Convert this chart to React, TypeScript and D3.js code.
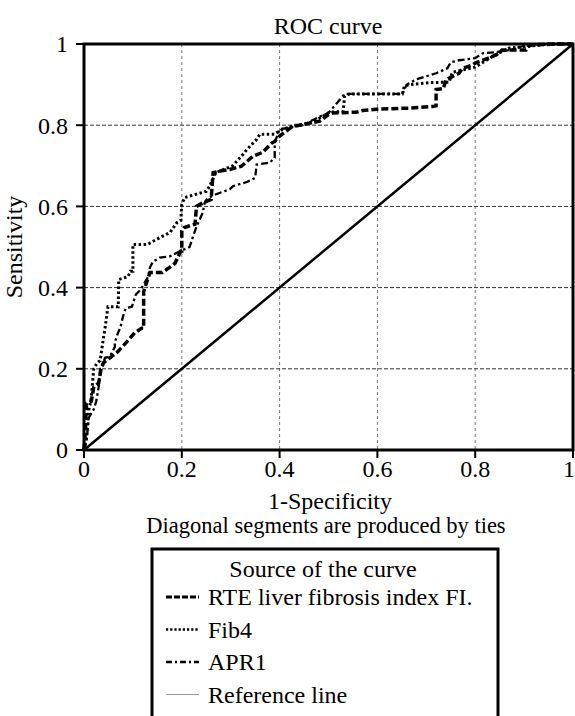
import React from "react";
import * as d3 from "d3";

// tick values and labels
const ticks = [0, 0.2, 0.4, 0.6, 0.8, 1];
const tickLabels = ["0", "0.2", "0.4", "0.6", "0.8", "1"];

const seriesNames = ["RTE liver fibrosis index FI.", "Fib4", "APR1", "Reference line"];

// [1-specificity, sensitivity]
const rtePoints: [number, number][] = [
  [0, 0], [0.003, 0.05], [0.005, 0.115], [0.015, 0.12], [0.02, 0.155], [0.03, 0.165],
  [0.035, 0.2], [0.04, 0.215], [0.053, 0.227], [0.069, 0.242], [0.088, 0.267],
  [0.104, 0.289], [0.118, 0.3], [0.122, 0.3], [0.122, 0.39], [0.13, 0.42], [0.135, 0.437],
  [0.16, 0.437], [0.175, 0.45], [0.186, 0.46], [0.198, 0.49], [0.2, 0.49], [0.2, 0.54],
  [0.205, 0.548], [0.227, 0.556], [0.23, 0.6], [0.245, 0.61], [0.26, 0.617], [0.264, 0.683],
  [0.278, 0.687], [0.298, 0.691], [0.322, 0.699], [0.345, 0.723], [0.365, 0.733],
  [0.384, 0.756], [0.39, 0.76], [0.4, 0.773], [0.427, 0.798], [0.44, 0.8], [0.482, 0.81],
  [0.5, 0.826], [0.508, 0.83], [0.557, 0.832], [0.57, 0.836], [0.604, 0.84], [0.665, 0.842],
  [0.712, 0.846], [0.72, 0.848], [0.72, 0.888], [0.735, 0.89], [0.74, 0.912], [0.767, 0.928],
  [0.774, 0.94], [0.794, 0.948], [0.8, 0.953], [0.843, 0.973], [0.855, 0.985],
  [0.904, 0.985], [0.91, 0.997], [0.965, 1], [1, 1],
];

const fib4Points: [number, number][] = [
  [0, 0], [0.005, 0.03], [0.01, 0.1], [0.014, 0.12], [0.02, 0.2], [0.027, 0.215],
  [0.033, 0.22], [0.039, 0.27], [0.043, 0.3], [0.049, 0.353], [0.07, 0.353], [0.071, 0.42],
  [0.09, 0.427], [0.095, 0.44], [0.1, 0.44], [0.1, 0.506], [0.13, 0.506], [0.135, 0.51],
  [0.155, 0.523], [0.176, 0.536], [0.19, 0.56], [0.198, 0.565], [0.2, 0.605], [0.206, 0.622],
  [0.25, 0.637], [0.257, 0.65], [0.27, 0.684], [0.278, 0.687], [0.304, 0.7], [0.325, 0.728],
  [0.333, 0.74], [0.353, 0.765], [0.36, 0.778], [0.39, 0.778], [0.406, 0.79], [0.427, 0.798],
  [0.44, 0.8], [0.467, 0.807], [0.502, 0.832], [0.53, 0.834], [0.533, 0.872], [0.543, 0.877],
  [0.651, 0.877], [0.655, 0.896], [0.665, 0.9], [0.706, 0.905], [0.747, 0.906], [0.753, 0.93],
  [0.8, 0.943], [0.84, 0.973], [0.87, 0.99], [0.9, 0.993], [0.95, 1], [1, 1],
];

const apr1Points: [number, number][] = [
  [0, 0], [0.005, 0.02], [0.01, 0.08], [0.02, 0.1], [0.025, 0.12], [0.03, 0.155],
  [0.033, 0.2], [0.035, 0.2], [0.043, 0.227], [0.053, 0.23], [0.063, 0.254], [0.063, 0.265],
  [0.07, 0.29], [0.074, 0.3], [0.08, 0.33], [0.084, 0.345], [0.086, 0.35], [0.098, 0.353],
  [0.106, 0.383], [0.116, 0.395], [0.124, 0.412], [0.131, 0.427], [0.135, 0.45],
  [0.141, 0.464], [0.155, 0.474], [0.176, 0.477], [0.19, 0.486], [0.216, 0.5], [0.223, 0.526],
  [0.23, 0.55], [0.243, 0.585], [0.247, 0.61], [0.253, 0.62], [0.27, 0.63], [0.298, 0.642],
  [0.305, 0.65], [0.333, 0.66], [0.35, 0.67], [0.353, 0.703], [0.38, 0.708], [0.39, 0.72],
  [0.39, 0.757], [0.4, 0.79], [0.447, 0.8], [0.48, 0.82], [0.5, 0.83], [0.533, 0.877],
  [0.651, 0.877], [0.66, 0.9], [0.68, 0.913], [0.72, 0.928], [0.743, 0.94], [0.75, 0.955],
  [0.767, 0.96], [0.8, 0.965], [0.815, 0.977], [0.843, 0.98], [0.87, 0.985], [0.904, 0.997],
  [0.93, 1], [1, 1],
];

const referencePoints: [number, number][] = [[0, 0], [1, 1]];

const FONT = "Liberation Serif";

const x = d3.scaleLinear().domain([0, 1]).range([84, 573]);
const y = d3.scaleLinear().domain([0, 1]).range([450, 44]);
const line = d3.line<[number, number]>().x((d) => x(d[0])).y((d) => y(d[1]));

const series = [
  { name: seriesNames[0], pts: rtePoints, width: 3.5, dash: "7,3", legendWidth: 3.2, legendDash: "6,2" },
  { name: seriesNames[1], pts: fib4Points, width: 3, dash: "2.5,2.5", legendWidth: 2.6, legendDash: "2.2,2" },
  { name: seriesNames[2], pts: apr1Points, width: 2.3, dash: "7,3,2.5,3", legendWidth: 2.3, legendDash: "6,3,2,3" },
];

const legendItems = [
  ...series.map((s) => ({ name: s.name, width: s.legendWidth, dash: s.legendDash, color: "#000" })),
  { name: seriesNames[3], width: 1, dash: undefined as string | undefined, color: "#999" },
];

export default function App() {
  const inner = ticks.slice(1, -1);
  return (
    <svg
      width={575}
      height={716}
      style={{ position: "absolute", left: 0, top: 0, background: "#fff", fontFamily: FONT }}
    >
      {/* grid */}
      {inner.map((t) => (
        <line key={"vg" + t} x1={x(t)} x2={x(t)} y1={y(1)} y2={y(0)}
          stroke="#777" strokeWidth={1} strokeDasharray="3,3" />
      ))}
      {inner.map((t) => (
        <line key={"hg" + t} x1={x(0)} x2={x(1)} y1={y(t)} y2={y(t)}
          stroke="#333" strokeWidth={1} strokeDasharray="4,2" />
      ))}

      <path d={line(referencePoints) || ""} fill="none" stroke="#000" strokeWidth={2.5} />
      {series.map((s) => (
        <path key={s.name} d={line(s.pts) || ""} fill="none" stroke="#000"
          strokeWidth={s.width} strokeDasharray={s.dash} />
      ))}

      {/* frame */}
      <rect x={x(0)} y={y(1)} width={x(1) - x(0)} height={y(0) - y(1)}
        fill="none" stroke="#000" strokeWidth={3} />

      {ticks.map((t, i) => (
        <g key={"t" + t}>
          <line x1={x(0) - 8} x2={x(0)} y1={y(t)} y2={y(t)} stroke="#000" strokeWidth={2} />
          <line x1={x(t)} x2={x(t)} y1={y(0)} y2={y(0) + 8} stroke="#000" strokeWidth={2} />
          <text x={68} y={y(t)} dy="0.35em" textAnchor="end" fontSize={24}>{tickLabels[i]}</text>
          <text x={Math.min(x(t), 569)} y={477} textAnchor="middle" fontSize={24}>{tickLabels[i]}</text>
        </g>
      ))}

      <text x={328} y={34} textAnchor="middle" fontSize={24}>ROC curve</text>
      <text x={330} y={509} textAnchor="middle" fontSize={24}>1-Specificity</text>
      <text x={326} y={533} textAnchor="middle" fontSize={22.5}>Diagonal segments are produced by ties</text>
      <text transform={`translate(22,${(y(0) + y(1)) / 2}) rotate(-90)`} textAnchor="middle" fontSize={24}>
        Sensitivity
      </text>

      {/* legend */}
      <rect x={152} y={549} width={346} height={220} fill="#fff" stroke="#000" strokeWidth={3} />
      <text x={323} y={577} textAnchor="middle" fontSize={24}>Source of the curve</text>
      {legendItems.map((d, i) => (
        <g key={d.name} transform={`translate(0,${605 + i * 32.5})`}>
          <line x1={166} x2={199} y1={-8} y2={-8} stroke={d.color}
            strokeWidth={d.width} strokeDasharray={d.dash} />
          <text x={208} y={0} fontSize={24}>{d.name}</text>
        </g>
      ))}
    </svg>
  );
}
